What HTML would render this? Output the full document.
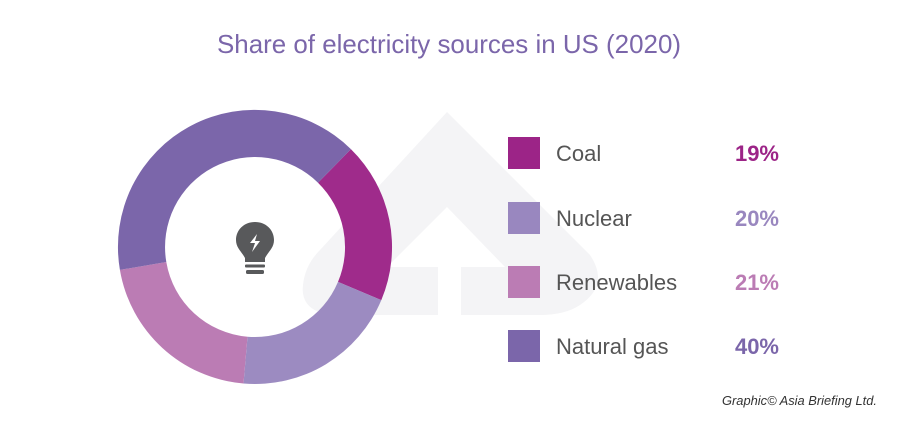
<!DOCTYPE html>
<html><head><meta charset="utf-8"><style>
body{margin:0;background:#fff}
svg{display:block}
</style></head><body>
<svg width="900" height="428" viewBox="0 0 900 428" xmlns="http://www.w3.org/2000/svg">
<rect width="900" height="428" fill="#fff"/>
<!-- watermark -->
<g fill="#f4f4f6">
<path d="M447 112 L590 255 Q610 285 580 305 Q565 315 540 315 L461 315 L461 267 L505 267 L447 207 L387 267 L438 267 L438 315 L330 315 Q300 310 303 285 Q305 265 320 250 Z"/>
</g>
<!-- donut -->
<path d="M350.9 149.1 A137 137 0 0 1 381.3 300.1 L338.0 281.9 A90 90 0 0 0 318.0 182.7 Z" fill="#9c2487" fill-opacity="0.97"/>
<path d="M381.3 300.1 A137 137 0 0 1 243.5 383.5 L247.5 336.7 A90 90 0 0 0 338.0 281.9 Z" fill="#9987bf" fill-opacity="0.97"/>
<path d="M243.5 383.5 A137 137 0 0 1 119.9 269.9 L166.3 262.0 A90 90 0 0 0 247.5 336.7 Z" fill="#bb7cb4"/>
<path d="M119.9 269.9 A137 137 0 0 1 350.9 149.1 L318.0 182.7 A90 90 0 0 0 166.3 262.0 Z" fill="#7b66aa"/>
<!-- bulb -->
<g fill="#58595b">
<path d="M255 222 C244 222 236 230 236 240 C236 248 242 252 245 258 L245 262 L265 262 L265 258 C268 252 274 248 274 240 C274 230 266 222 255 222 Z"/>
<rect x="245" y="264.5" width="20" height="3" rx="1"/>
<rect x="246" y="270" width="18" height="4" rx="1.5"/>
</g>
<path d="M257 234 L250 243 L255 243 L252 252 L260 241 L255 241 Z" fill="#fff"/>
<!-- title -->
<text x="449" y="53" text-anchor="middle" font-family="Liberation Sans, sans-serif" font-size="26" fill="#7b66aa" textLength="464" lengthAdjust="spacingAndGlyphs">Share of electricity sources in US (2020)</text>
<!-- legend -->
<g font-family="Liberation Sans, sans-serif" font-size="22">
<rect x="508" y="137" width="32" height="32" fill="#9c2487"/>
<text x="556" y="161" fill="#555">Coal</text>
<text x="779" y="161" text-anchor="end" font-weight="bold" fill="#9c2487">19%</text>
<rect x="508" y="202" width="32" height="32" fill="#9987bf"/>
<text x="556" y="226" fill="#555">Nuclear</text>
<text x="779" y="226" text-anchor="end" font-weight="bold" fill="#9987bf">20%</text>
<rect x="508" y="266" width="32" height="32" fill="#bb7cb4"/>
<text x="556" y="290" fill="#555">Renewables</text>
<text x="779" y="290" text-anchor="end" font-weight="bold" fill="#bb7cb4">21%</text>
<rect x="508" y="330" width="32" height="32" fill="#7b66aa"/>
<text x="556" y="354" fill="#555">Natural gas</text>
<text x="779" y="354" text-anchor="end" font-weight="bold" fill="#7b66aa">40%</text>
</g>
<text x="877" y="405" text-anchor="end" font-family="Liberation Sans, sans-serif" font-size="13" font-style="italic" fill="#333" textLength="155" lengthAdjust="spacingAndGlyphs">Graphic© Asia Briefing Ltd.</text>
</svg>
</body></html>
